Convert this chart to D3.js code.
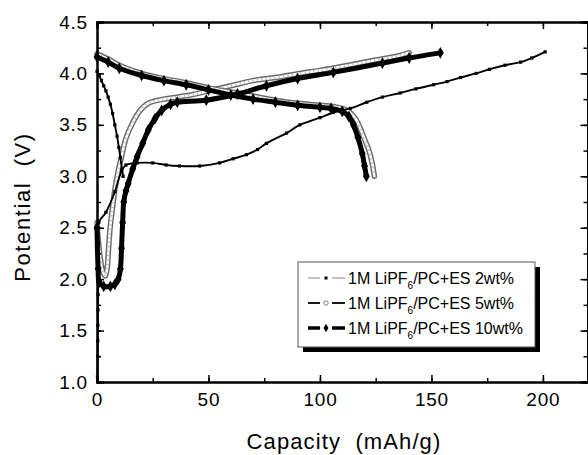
<!DOCTYPE html>
<html><head><meta charset="utf-8">
<script src="https://cdn.jsdelivr.net/npm/d3@7"></script>
<style>
html,body{margin:0;padding:0;background:#fff;}
text{font-family:"Liberation Sans",Arial,Helvetica,sans-serif;fill:#000;}
</style></head>
<body><svg id="c" width="588" height="455"></svg>
<script>
// ---- data (capacity mAh/g, potential V) ----
const seriesNames = ["2wt%", "5wt%", "10wt%"];
const xTicks = [0, 50, 100, 150, 200];
const yTicks = [1.0, 1.5, 2.0, 2.5, 3.0, 3.5, 4.0, 4.5];

const es2ChargeX = [0.2,0.3,0.35,0.4,0.45,0.5,0.55,0.6,0.7,0.8,4,8,11,13,18,25,31,37,46,55,61,67,72,76,85,91,100,106,113.6,121,128,136,143,151,157,163,170,176,183,190,195,201];
const es2ChargeY = [1.05,1.25,1.4,1.55,1.7,1.85,2.0,2.15,2.35,2.55,2.65,2.85,3.05,3.11,3.13,3.13,3.11,3.1,3.1,3.13,3.17,3.21,3.26,3.32,3.42,3.5,3.57,3.62,3.66,3.72,3.77,3.81,3.85,3.89,3.92,3.96,4.0,4.04,4.08,4.11,4.15,4.21];
const es2DischargeX = [0,1,2,3,4,5,6,7,8,9,9.8,10.5,11.2,11.7];
const es2DischargeY = [4.02,3.98,3.93,3.88,3.83,3.77,3.7,3.61,3.5,3.39,3.28,3.18,3.07,3.0];

const es5ChargeX = [0,0.5,1.5,2.5,3.6,4.5,5.2,5.8,7,8,9.5,11,13,16,19,23,30,42,50,60,70,80,91,100,113,125,135,140];
const es5ChargeY = [2.55,2.4,2.2,2.08,2.03,2.1,2.3,2.48,2.7,2.87,3.05,3.19,3.37,3.52,3.63,3.71,3.75,3.79,3.83,3.88,3.93,3.96,4.0,4.03,4.08,4.13,4.17,4.2];
const es5DischargeX = [0,5,10,20,30,40,50,60,70,80,90,100,108,113,116,118,120,122,123.5,124.4];
const es5DischargeY = [4.19,4.14,4.08,4.0,3.95,3.91,3.86,3.82,3.78,3.74,3.71,3.69,3.67,3.63,3.56,3.47,3.36,3.25,3.12,3.0];

const es10ChargeX = [0,0.5,1,3,6,8,9.5,10.5,11,11.5,12,13,14,16,18,20.5,23,26,29,33,36,49,63,76,90,106,128,140,154];
const es10ChargeY = [2.5,2.1,1.97,1.93,1.93,1.95,2.0,2.1,2.3,2.55,2.75,2.86,2.93,3.07,3.19,3.32,3.45,3.56,3.64,3.7,3.72,3.74,3.8,3.88,3.95,4.01,4.1,4.15,4.2];
const es10DischargeX = [0,5,10,20,30,40,50,60,70,80,90,100,105,110,113,115,117,119,120,120.8];
const es10DischargeY = [4.16,4.11,4.05,3.98,3.93,3.89,3.84,3.79,3.75,3.72,3.69,3.67,3.66,3.63,3.58,3.5,3.38,3.22,3.1,3.0];

const legendLabels = ["/PC+ES 2wt%", "/PC+ES 5wt%", "/PC+ES 10wt%"];

// ---- layout ----
const svg = d3.select("#c");
const L = 97, R = 587.5, T = 22, B = 382;
const x = d3.scaleLinear().domain([0, 220]).range([L, R]);
const y = d3.scaleLinear().domain([1.0, 4.5]).range([B, T]);
const zip = (a, b) => a.map((v, i) => [v, b[i]]);
const lineN = d3.line().x(d => x(d[0])).y(d => y(d[1])).curve(d3.curveCatmullRom.alpha(0.5));

const plot = svg.append("g");

// 5wt% (hollow circle band)
[zip(es5ChargeX, es5ChargeY), zip(es5DischargeX, es5DischargeY)].forEach(d => {
  plot.append("path").attr("d", lineN(d)).attr("fill", "none").attr("stroke", "#6a6a6a").attr("stroke-width", 5.5).attr("stroke-linejoin","round").attr("stroke-linecap","round");
  plot.append("path").attr("d", lineN(d)).attr("fill", "none").attr("stroke", "#fff").attr("stroke-width", 2.6).attr("stroke-linejoin","round").attr("stroke-linecap","round");
  plot.append("path").attr("d", lineN(d)).attr("fill", "none").attr("stroke", "#bbb").attr("stroke-width", 2.6).attr("stroke-dasharray", "1.2 3.2");
});
// 10wt% (thick black diamonds)
[zip(es10ChargeX, es10ChargeY), zip(es10DischargeX, es10DischargeY)].forEach(d => {
  plot.append("path").attr("d", lineN(d)).attr("fill", "none").attr("stroke", "#000").attr("stroke-width", 5).attr("stroke-linejoin","round").attr("stroke-linecap","round");
  plot.selectAll(null).data(d).enter().append("path")
    .attr("d", d3.symbol(d3.symbolDiamond, 40)())
    .attr("transform", p => `translate(${x(p[0])},${y(p[1])})`).attr("fill", "#000");
});
// 2wt% (thin line, small squares)
[zip(es2ChargeX, es2ChargeY), zip(es2DischargeX, es2DischargeY)].forEach(d => {
  plot.append("path").attr("d", lineN(d)).attr("fill", "none").attr("stroke", "#000").attr("stroke-width", 1.9).attr("stroke-linejoin","round");
  plot.selectAll(null).data(d).enter().append("rect")
    .attr("x", p => x(p[0]) - 1.6).attr("y", p => y(p[1]) - 1.6).attr("width", 3.2).attr("height", 3.2).attr("fill", "#000");
});

// ---- axes (ticks inward) ----
const minorX = d3.range(0, 221, 25);
const minorY = d3.range(1.0, 4.51, 0.25);
const ax = svg.append("g");
ax.append("g").attr("transform", `translate(0,${B})`)
  .call(d3.axisBottom(x).tickValues(minorX).tickSize(-4).tickFormat(""));
ax.append("g").attr("transform", `translate(0,${B})`)
  .call(d3.axisBottom(x).tickValues(xTicks).tickSize(-7).tickPadding(11).tickFormat(d3.format("d")));
ax.append("g").attr("transform", `translate(0,${T})`)
  .call(d3.axisTop(x).tickValues(minorX).tickSize(-4).tickFormat(""));
ax.append("g").attr("transform", `translate(0,${T})`)
  .call(d3.axisTop(x).tickValues(xTicks).tickSize(-7).tickFormat(""));
ax.append("g").attr("transform", `translate(${L},0)`)
  .call(d3.axisLeft(y).tickValues(minorY).tickSize(-4).tickFormat(""));
ax.append("g").attr("transform", `translate(${L},0)`)
  .call(d3.axisLeft(y).tickValues(yTicks).tickSize(-7).tickPadding(9).tickFormat(d3.format(".1f")));
ax.append("g").attr("transform", `translate(${R},0)`)
  .call(d3.axisRight(y).tickValues(minorY).tickSize(-4).tickFormat(""));
ax.append("g").attr("transform", `translate(${R},0)`)
  .call(d3.axisRight(y).tickValues(yTicks).tickSize(-7).tickFormat(""));
ax.selectAll(".domain").attr("stroke", "#000").attr("stroke-width", 2);
ax.selectAll(".tick line").attr("stroke", "#000").attr("stroke-width", 1.5);
ax.selectAll(".tick text").attr("font-size", 19).attr("letter-spacing", 0.8).attr("font-family", "Liberation Sans, Arial, sans-serif");

svg.append("text").attr("x", 344).attr("y", 449).attr("text-anchor", "middle").attr("font-size", 22)
  .attr("letter-spacing", 1.1).attr("xml:space", "preserve").text("Capacity  (mAh/g)");
svg.append("text").attr("transform", "translate(30,207) rotate(-90)").attr("text-anchor", "middle").attr("font-size", 22)
  .attr("letter-spacing", 1.6).attr("xml:space", "preserve").text("Potential  (V)");

// ---- legend ----
const lg = svg.append("g");
const lx = 298, ly = 262, lw = 237, lh = 85;
lg.append("rect").attr("x", lx + 5).attr("y", ly + 5).attr("width", lw).attr("height", lh).attr("fill", "#000");
lg.append("rect").attr("x", lx).attr("y", ly).attr("width", lw).attr("height", lh).attr("fill", "#fff").attr("stroke", "#555").attr("stroke-width", 1);
const rows = [278, 303, 328];
seriesNames.forEach((s, i) => {
  const yy = rows[i];
  const g = lg.append("g");
  if (i === 0) {
    g.append("line").attr("x1", 308).attr("x2", 320).attr("y1", yy).attr("y2", yy).attr("stroke", "#999").attr("stroke-width", 1.2);
    g.append("line").attr("x1", 332).attr("x2", 345).attr("y1", yy).attr("y2", yy).attr("stroke", "#999").attr("stroke-width", 1.2);
    g.append("rect").attr("x", 324.5).attr("y", yy - 1.5).attr("width", 3).attr("height", 3).attr("fill", "#000");
  } else if (i === 1) {
    g.append("line").attr("x1", 308).attr("x2", 320).attr("y1", yy).attr("y2", yy).attr("stroke", "#000").attr("stroke-width", 1.8);
    g.append("line").attr("x1", 332).attr("x2", 345).attr("y1", yy).attr("y2", yy).attr("stroke", "#000").attr("stroke-width", 1.8);
    g.append("circle").attr("cx", 326).attr("cy", yy).attr("r", 2.2).attr("fill", "#fff").attr("stroke", "#777").attr("stroke-width", 1);
  } else {
    g.append("line").attr("x1", 308).attr("x2", 320).attr("y1", yy).attr("y2", yy).attr("stroke", "#000").attr("stroke-width", 3.5);
    g.append("line").attr("x1", 332).attr("x2", 345).attr("y1", yy).attr("y2", yy).attr("stroke", "#000").attr("stroke-width", 3.5);
    g.append("path").attr("d", d3.symbol(d3.symbolDiamond, 22)()).attr("transform", `translate(326,${yy})`).attr("fill", "#000");
  }
  const t = g.append("text").attr("x", 348).attr("y", yy + 6).attr("font-size", 16);
  t.append("tspan").text("1M LiPF");
  t.append("tspan").attr("font-size", 10).attr("dy", 5).text("6");
  t.append("tspan").attr("dy", -5).text(legendLabels[i]);
});
</script></body></html>
